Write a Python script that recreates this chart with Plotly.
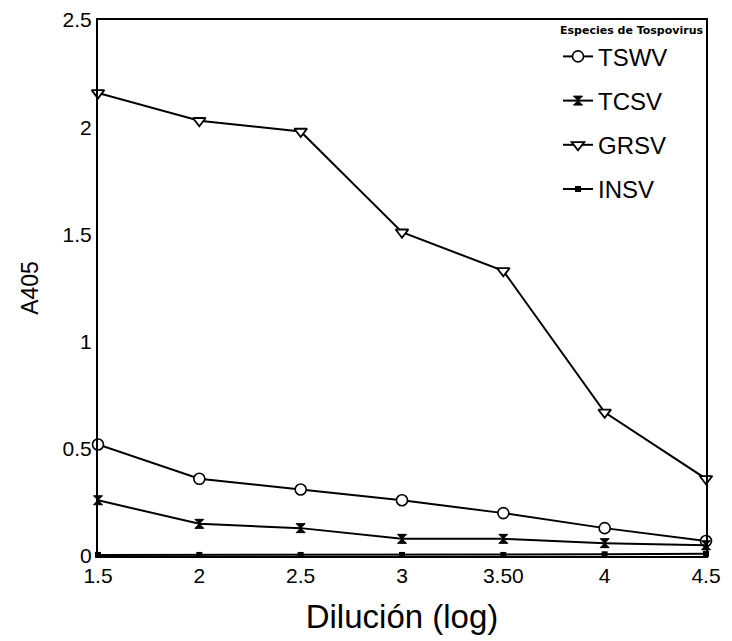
import plotly.graph_objects as go

dilution = [1.5, 2, 2.5, 3, 3.5, 4, 4.5]
x_tick_labels = ["1.5", "2", "2.5", "3", "3.50", "4", "4.5"]
y_tick_vals = [0, 0.5, 1, 1.5, 2, 2.5]
y_tick_labels = ["0", "0.5", "1", "1.5", "2", "2.5"]

tswv = [0.52, 0.36, 0.31, 0.26, 0.20, 0.13, 0.07]
tcsv = [0.26, 0.15, 0.13, 0.08, 0.08, 0.06, 0.05]
grsv = [2.16, 2.03, 1.98, 1.51, 1.33, 0.67, 0.36]
insv = [0.005, 0.005, 0.005, 0.005, 0.005, 0.008, 0.01]

series = [
    ("TSWV", tswv, dict(symbol="circle", size=11, color="white", line=dict(color="black", width=1.6))),
    ("TCSV", tcsv, dict(symbol="hourglass", size=9, color="black", line=dict(color="black", width=1))),
    ("GRSV", grsv, dict(symbol="triangle-down", size=11, color="white", line=dict(color="black", width=1.8))),
    ("INSV", insv, dict(symbol="square", size=6, color="black", line=dict(color="black", width=0))),
]

fig = go.Figure()
for i, (name, vals, mk) in enumerate(series):
    fig.add_trace(go.Scatter(
        x=dilution, y=vals, name=name, mode="lines+markers",
        line=dict(color="black", width=2), marker=mk,
        cliponaxis=False, legendgroup=f"g{i}",
    ))

font_main = "Liberation Sans, Arial, sans-serif"

fig.update_layout(
    width=724, height=633,
    margin=dict(l=90, r=26, t=12, b=85),
    paper_bgcolor="white", plot_bgcolor="white",
    font=dict(family=font_main, color="black", size=20),
    showlegend=True,
    legend=dict(
        x=1, y=1, xanchor="right", yanchor="top",
        bgcolor="rgba(0,0,0,0)",
        font=dict(size=24, family=font_main),
        title=dict(text="<b>Especies de Tospovirus</b>", font=dict(size=11, family="DejaVu Sans, sans-serif")),
        tracegroupgap=10,
        itemwidth=30,
    ),
    xaxis=dict(
        range=[1.5, 4.5], tickvals=dilution, ticktext=x_tick_labels,
        showgrid=False, zeroline=False, ticks="", automargin=False,
        ticklabeloverflow="allow",
        showline=True, linecolor="black", linewidth=2, mirror=True,
        tickfont=dict(size=21),
        title=dict(text="Dilución (log)", font=dict(size=33), standoff=19),
    ),
    yaxis=dict(
        range=[0, 2.5], tickvals=y_tick_vals, ticktext=y_tick_labels,
        showgrid=False, zeroline=False, ticks="", automargin=False,
        ticklabeloverflow="allow",
        showline=True, linecolor="black", linewidth=2, mirror=True,
        tickfont=dict(size=21),
        title=dict(text="A405", font=dict(size=23), standoff=18),
    ),
)

fig.write_html("out.html")
